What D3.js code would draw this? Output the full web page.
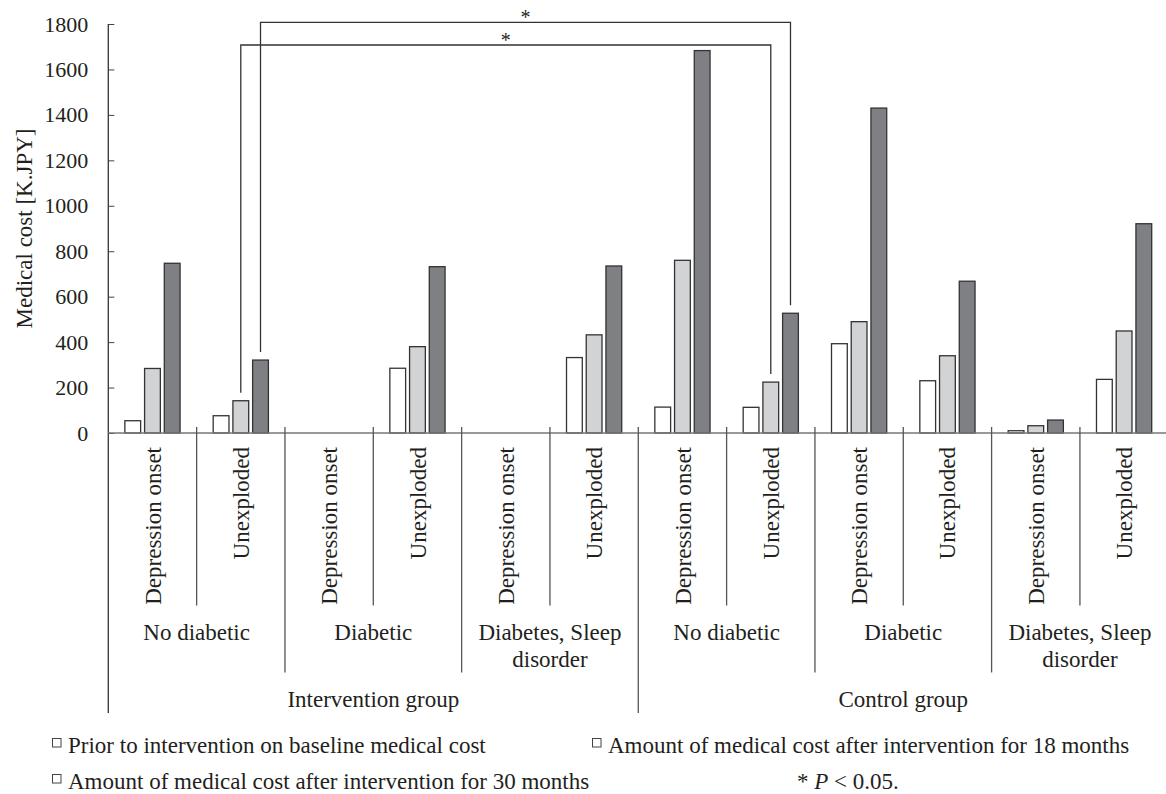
<!DOCTYPE html>
<html>
<head>
<meta charset="utf-8">
<script src="https://cdn.jsdelivr.net/npm/d3@7"></script>
<style>
    body { margin: 0; background: #fff; }
    svg { display: block; }
    svg text { font-family: "Liberation Serif", "Times New Roman", Times, serif; fill: #231f20; }
</style>
</head>
<body>
<svg id="chart" width="1166" height="794" font-family="Liberation Serif, Times New Roman, serif"></svg>
<script>
/**
 * Data.
 */
const groups = ['Intervention group', 'Control group'];
const conditions = ['No diabetic', 'Diabetic', 'Diabetes, Sleep disorder'];
const outcomes = ['Depression onset', 'Unexploded'];
const seriesNames = [
    'Prior to intervention on baseline medical cost',
    'Amount of medical cost after intervention for 18 months',
    'Amount of medical cost after intervention for 30 months'
];
// One value per leaf category (group > condition > outcome), left to right
const baseline = [54, 76, 0, 285, 0, 332, 114, 113, 393, 230, 10, 236];
const month18 = [284, 142, 0, 380, 0, 432, 760, 224, 490, 340, 32, 449];
const month30 = [747, 321, 0, 732, 0, 735, 1683, 527, 1430, 668, 57, 921];
const yTicks = [0, 200, 400, 600, 800, 1000, 1200, 1400, 1600, 1800];
// Significance brackets: leaf index pairs and the series compared
const sigPairs = [
    { from: 1, to: 7, series: 2, label: '*' },
    { from: 1, to: 7, series: 1, label: '*' }
];

/**
 * Visual configs.
 */
const plotLeft = 108.3, plotTop = 24, plotBottom = 433,
    catWidth = 88.33,
    fontSize = 23,
    colors = ['#ffffff', '#d2d3d5', '#7f8084'];

const series = [baseline, month18, month30];
const leaves = [];
groups.forEach(g => conditions.forEach(c => outcomes.forEach(o => leaves.push({ group: g, condition: c, outcome: o }))));

/**
 * D3.
 */
const svg = d3.select('#chart');
const xScale = d3.scaleBand().domain(d3.range(leaves.length))
    .range([plotLeft, plotLeft + catWidth * leaves.length]);
const subScale = d3.scaleBand().domain(d3.range(series.length))
    .range([0, xScale.bandwidth()]).paddingInner(0.2).paddingOuter(0.84);
const yScale = d3.scaleLinear().domain([0, 1800]).range([plotBottom, plotTop]);

// Y axis
const yAxis = d3.axisLeft(yScale).tickValues(yTicks).tickFormat(d3.format('d'))
    .tickSizeInner(-6).tickSizeOuter(0).tickPadding(20);
const yAxisG = svg.append('g').attr('transform', 'translate(' + plotLeft + ',0)').call(yAxis)
    .attr('font-family', null);
yAxisG.select('.domain').remove();
yAxisG.selectAll('line').attr('stroke', '#444');
yAxisG.selectAll('text').style('font-size', '22px').attr('fill', '#231f20');

svg.append('text')
    .attr('transform', 'translate(24,' + (plotTop + plotBottom) / 2 + ') rotate(-90)')
    .attr('text-anchor', 'middle').attr('dy', '0.35em')
    .style('font-size', fontSize + 'px')
    .text('Medical cost [K.JPY]');

// Axis lines
svg.append('line').attr('x1', plotLeft).attr('x2', plotLeft).attr('y1', plotTop).attr('y2', 713)
    .attr('stroke', '#333').attr('stroke-width', 1.3);

// Bars
const barG = svg.append('g').attr('class', 'bars');
series.forEach((values, s) => {
    barG.selectAll('rect.s' + s).data(values).enter().append('rect')
        .attr('class', 's' + s)
        .attr('x', (d, i) => xScale(i) + subScale(s))
        .attr('width', subScale.bandwidth())
        .attr('y', d => yScale(d))
        .attr('height', d => plotBottom - yScale(d))
        .attr('fill', colors[s])
        .attr('stroke', d => d > 0 ? '#333' : 'none')
        .attr('stroke-width', 1.3);
});

svg.append('line').attr('x1', plotLeft).attr('x2', 1166).attr('y1', plotBottom).attr('y2', plotBottom)
    .attr('stroke', '#777').attr('stroke-width', 1.3);

/**
 * Hierarchical category axis.
 */
const perCond = outcomes.length, perGroup = conditions.length * outcomes.length;
d3.range(1, leaves.length).forEach(i => {
    const level = i % perGroup === 0 ? 3 : (i % perCond === 0 ? 2 : 1);
    const bottom = level === 3 ? 713 : (level === 2 ? 672.5 : 605.5);
    svg.append('line')
        .attr('x1', xScale(i)).attr('x2', xScale(i))
        .attr('y1', 427).attr('y2', bottom)
        .attr('stroke', '#555').attr('stroke-width', 1.3);
});

// Level 1: rotated outcome labels
svg.selectAll('text.leaf').data(leaves).enter().append('text')
    .attr('class', 'leaf')
    .attr('transform', (d, i) => 'translate(' + (xScale(i) + catWidth / 2) + ',447) rotate(-90)')
    .attr('text-anchor', 'end').attr('dy', '0.35em')
    .style('font-size', fontSize + 'px')
    .text(d => d.outcome);

// Level 2: condition labels, long ones wrap onto a second line
const condData = [];
groups.forEach((g, gi) => conditions.forEach((c, ci) => condData.push({ name: c, start: gi * perGroup + ci * perCond })));
svg.selectAll('text.cond').data(condData).enter().append('text')
    .attr('class', 'cond')
    .attr('text-anchor', 'middle')
    .style('font-size', fontSize + 'px')
    .each(function(d) {
        const cx = xScale(d.start) + catWidth * perCond / 2;
        const words = d.name.split(' ');
        const lines = words.length > 2 ? [words.slice(0, -1).join(' '), words[words.length - 1]] : [d.name];
        d3.select(this).selectAll('tspan').data(lines).enter().append('tspan')
            .attr('x', cx).attr('y', (l, k) => 640 + k * 26.5)
            .text(String);
    });

// Level 3: group labels
svg.selectAll('text.group').data(groups).enter().append('text')
    .attr('class', 'group')
    .attr('x', (d, i) => xScale(i * perGroup) + catWidth * perGroup / 2)
    .attr('y', 707)
    .attr('text-anchor', 'middle')
    .style('font-size', fontSize + 'px')
    .text(String);

/**
 * Significance brackets.
 */
sigPairs.forEach((p, k) => {
    const x1 = xScale(p.from) + subScale(p.series) + subScale.bandwidth() / 2,
        x2 = xScale(p.to) + subScale(p.series) + subScale.bandwidth() / 2,
        y = 22.3 + k * 22.7,
        y1 = yScale(series[p.series][p.from]) - 8,
        y2 = yScale(series[p.series][p.to]) - 8;
    svg.append('path')
        .attr('d', 'M' + x1 + ',' + y1 + 'V' + y + 'H' + x2 + 'V' + y2)
        .attr('fill', 'none').attr('stroke', '#333').attr('stroke-width', 1.3);
    svg.append('text')
        .attr('x', (x1 + x2) / 2).attr('y', y + 2)
        .attr('text-anchor', 'middle')
        .style('font-size', '20px')
        .text(p.label);
});

/**
 * Legend.
 */
const legendPos = [[52, 753], [592, 753], [52, 789]];
const legend = svg.selectAll('g.legend').data(seriesNames).enter().append('g')
    .attr('class', 'legend')
    .attr('transform', (d, i) => 'translate(' + legendPos[i][0] + ',' + legendPos[i][1] + ')');
legend.append('rect')
    .attr('x', 0.5).attr('y', -14.5).attr('width', 8.5).attr('height', 8.5)
    .attr('fill', '#fff').attr('stroke', '#444').attr('stroke-width', 1);
legend.append('text')
    .attr('x', 16)
    .style('font-size', fontSize + 'px')
    .text(String);

const note = svg.append('text').attr('x', 797).attr('y', 789).style('font-size', fontSize + 'px');
note.append('tspan').text('* ');
note.append('tspan').style('font-style', 'italic').text('P');
note.append('tspan').text(' < 0.05.');
</script>
</body>
</html>
